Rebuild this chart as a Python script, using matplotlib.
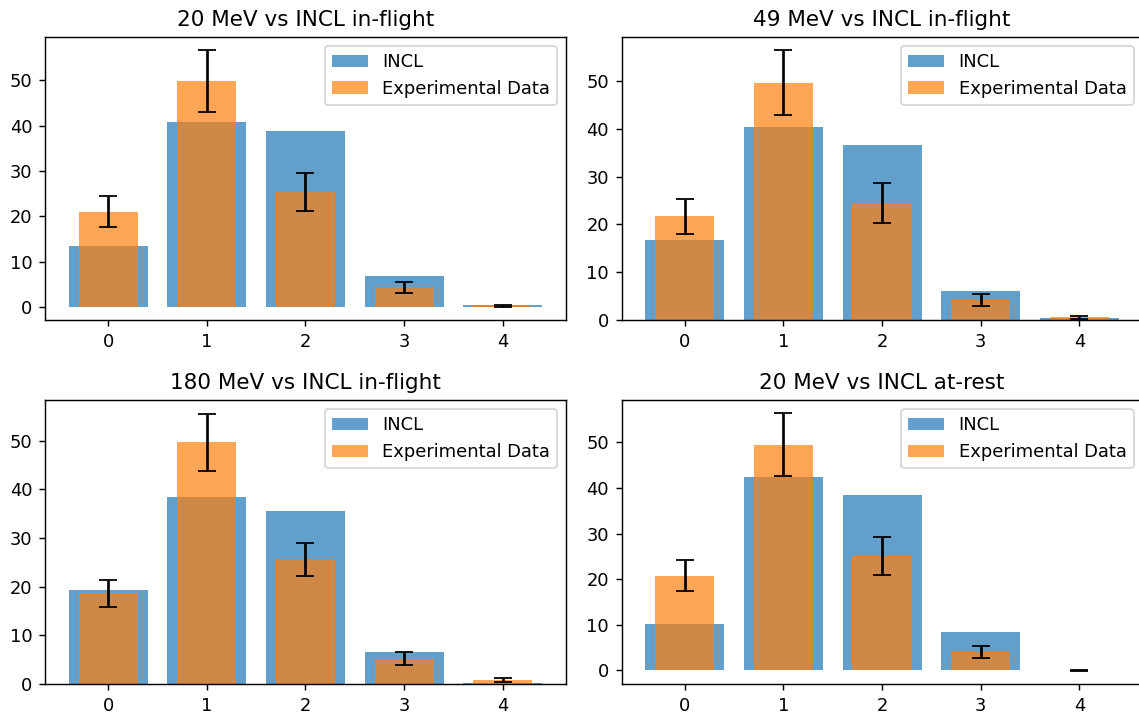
import numpy as np
import matplotlib
matplotlib.use("Agg")
import matplotlib.pyplot as plt

# multiplicity bins
bins = [0, 1, 2, 3, 4]

titles = [
    "20 MeV vs INCL in-flight",
    "49 MeV vs INCL in-flight",
    "180 MeV vs INCL in-flight",
    "20 MeV vs INCL at-rest",
]

# INCL simulation (%)
incl_20_flight = [13.5, 40.8, 38.8, 6.9, 0.35]
incl_49_flight = [16.8, 40.3, 36.7, 6.1, 0.35]
incl_180_flight = [19.4, 38.3, 35.6, 6.5, 0.3]
incl_20_rest = [10.1, 42.3, 38.5, 8.4, 0.0]

# experimental data (%) and errors
exp_20 = [21.0, 49.8, 25.4, 4.3, 0.2]
err_20 = [3.45, 6.9, 4.2, 1.3, 0.25]
exp_49 = [21.7, 49.6, 24.5, 4.2, 0.55]
err_49 = [3.7, 6.8, 4.15, 1.3, 0.35]
exp_180 = [18.6, 49.6, 25.6, 5.2, 0.85]
err_180 = [2.85, 5.9, 3.45, 1.3, 0.4]
exp_20r = [20.7, 49.5, 25.1, 4.0, 0.0]
err_20r = [3.4, 6.9, 4.15, 1.25, 0.15]

incl_sets = [incl_20_flight, incl_49_flight, incl_180_flight, incl_20_rest]
exp_sets = [exp_20, exp_49, exp_180, exp_20r]
err_sets = [err_20, err_49, err_180, err_20r]

DPI = 129
fig = plt.figure(figsize=(1139 / DPI, 713 / DPI), dpi=DPI)

# axes rectangles (the right column runs off the edge of the picture)
rects = [
    [0.0395, 0.5512, 0.4574, 0.397],
    [0.5457, 0.5512, 0.4574, 0.397],
    [0.0395, 0.0407, 0.4574, 0.398],
    [0.5457, 0.0407, 0.4574, 0.398],
]

for i in range(4):
    ax = fig.add_axes(rects[i])
    ax.bar(bins, incl_sets[i], width=0.8, alpha=0.7, color="C0", label="INCL")
    ax.bar(bins, exp_sets[i], width=0.6, alpha=0.7, color="C1",
           yerr=err_sets[i], capsize=5, label="Experimental Data")
    ax.set_title(titles[i])
    ax.set_xticks(bins)
    ax.legend(loc="upper right")

fig.savefig("out.png", dpi=DPI)
